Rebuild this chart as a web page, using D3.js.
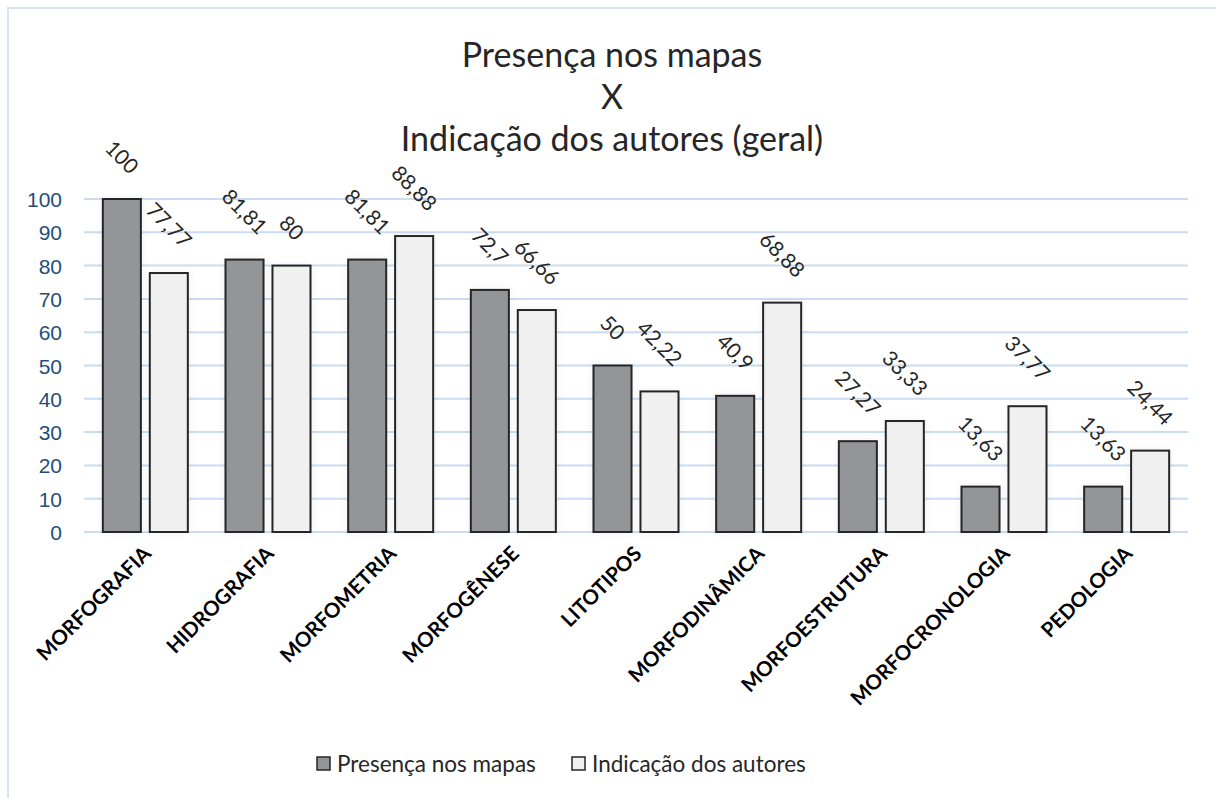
<!DOCTYPE html>
<html lang="pt">
<head>
<meta charset="UTF-8">
<title>Presença nos mapas X Indicação dos autores</title>
<script src="https://d3js.org/d3.v7.min.js"></script>
<style>
    body { margin: 0; background: #fff; }
    svg { font-family: Lato, "Liberation Sans", sans-serif; }
    .tick text { fill: #1f4e79; font-size: 21px; }
    .datalabel { fill: #262626; font-size: 21px; }
    .catlabel { fill: #000; font-size: 20.5px; font-weight: bold; }
</style>
</head>
<body>
<svg id="canvas" width="1216" height="798"></svg>
<script>
    // categories and the two series
    let categories = ["MORFOGRAFIA", "HIDROGRAFIA", "MORFOMETRIA", "MORFOGÊNESE", "LITOTIPOS",
        "MORFODINÂMICA", "MORFOESTRUTURA", "MORFOCRONOLOGIA", "PEDOLOGIA"];
    let presenca = [100, 81.81, 81.81, 72.7, 50, 40.9, 27.27, 13.63, 13.63];
    let indicacao = [77.77, 80, 88.88, 66.66, 42.22, 68.88, 33.33, 37.77, 24.44];
    let seriesNames = ["Presença nos mapas", "Indicação dos autores"];
    let yTicks = [0, 10, 20, 30, 40, 50, 60, 70, 80, 90, 100];
    let titleLines = ["Presença nos mapas", "X", "Indicação dos autores (geral)"];

    let colors = ["#939598", "#f0f0f0"];

    let svg = d3.select('#canvas');

    // outer chart border
    svg.append("rect")
        .attr("x", 8).attr("y", 8)
        .attr("width", 1230).attr("height", 820)
        .attr("fill", "none")
        .attr("stroke", "#d5e3f5")
        .attr("stroke-width", 2);

    // soft shadow used by the bars
    let defs = svg.append("defs");
    let f = defs.append("filter").attr("id", "glow")
        .attr("x", "-30%").attr("y", "-10%").attr("width", "160%").attr("height", "120%");
    f.append("feGaussianBlur").attr("in", "SourceAlpha").attr("stdDeviation", 5).attr("result", "b");
    f.append("feComponentTransfer").attr("in", "b").attr("result", "b2")
        .append("feFuncA").attr("type", "linear").attr("slope", 0.06);
    let m = f.append("feMerge");
    m.append("feMergeNode").attr("in", "b2");
    m.append("feMergeNode").attr("in", "SourceGraphic");

    // title
    svg.append("g").selectAll("text")
        .data(titleLines)
        .enter()
        .append("text")
        .attr("x", 612)
        .attr("y", function (d, i) { return 67 + i * 42; })
        .attr("text-anchor", "middle")
        .style("font-size", "34px")
        .attr("fill", "#262626")
        .text(function (d) { return d; });

    let plotLeft = 84, plotRight = 1188, plotTop = 199, plotBottom = 532;

    let x = d3.scaleBand().domain(categories).range([plotLeft, plotRight])
        .paddingInner(0.307).paddingOuter(0.1535);
    let xs = d3.scaleBand().domain([0, 1]).range([0, x.bandwidth()]).paddingInner(0.19);
    let y = d3.scaleLinear().domain([0, 100]).range([plotBottom, plotTop]);

    // gridlines
    svg.append("g").selectAll("line")
        .data(yTicks)
        .enter()
        .append("line")
        .attr("x1", plotLeft).attr("x2", plotRight)
        .attr("y1", function (d) { return y(d); })
        .attr("y2", function (d) { return y(d); })
        .attr("stroke", "#cadcf2")
        .attr("stroke-width", 2);

    // y axis
    let yAxis = svg.append("g")
        .attr("transform", "translate(62,0)")
        .call(d3.axisLeft(y).tickValues(yTicks).tickSize(0).tickPadding(0));
    yAxis.select(".domain").remove();
    yAxis.selectAll(".tick text").attr("dy", "0.36em");

    let rows = categories.map(function (c, i) {
        return { cat: c, vals: [presenca[i], indicacao[i]] };
    });

    let groups = svg.append("g").selectAll("g")
        .data(rows)
        .enter()
        .append("g")
        .attr("transform", function (d) { return "translate(" + x(d.cat) + ",0)"; });

    groups.selectAll("rect")
        .data(function (d) { return d.vals.map(function (v, k) { return { k: k, v: v }; }); })
        .enter()
        .append("rect")
        .attr("x", function (d) { return xs(d.k); })
        .attr("y", function (d) { return y(d.v); })
        .attr("width", xs.bandwidth())
        .attr("height", function (d) { return y(0) - y(d.v); })
        .attr("fill", function (d) { return colors[d.k]; })
        .attr("stroke", "#262626")
        .attr("stroke-width", 2)
        .attr("filter", "url(#glow)");

    // rotated data labels, box sitting above each bar
    groups.selectAll(".datalabel")
        .data(function (d) { return d.vals.map(function (v, k) { return { k: k, v: v }; }); })
        .enter()
        .append("text")
        .attr("class", "datalabel")
        .attr("text-anchor", "middle")
        .attr("dy", "0.35em")
        .text(function (d) { return String(d.v).replace(".", ","); })
        .attr("transform", function (d) {
            let L = this.getComputedTextLength();
            let w = 0.7071 * (L + 14);
            let cx = xs(d.k) + xs.bandwidth() / 2;
            let cy = y(d.v) - 24 - w / 2;
            return "translate(" + cx + "," + cy + ") rotate(45)";
        });

    // category labels
    svg.append("g").selectAll("text")
        .data(categories)
        .enter()
        .append("text")
        .attr("class", "catlabel")
        .attr("text-anchor", "end")
        .attr("transform", function (d) {
            return "translate(" + (x(d) + x.bandwidth() / 2 + 7) + ",555) rotate(-45)";
        })
        .text(function (d) { return d; });

    // legend
    let legendX = [317, 572];
    let legend = svg.append("g").selectAll("g")
        .data(seriesNames)
        .enter()
        .append("g")
        .attr("transform", function (d, i) { return "translate(" + legendX[i] + ",757)"; });
    legend.append("rect")
        .attr("width", 13).attr("height", 13)
        .attr("fill", function (d, i) { return colors[i]; })
        .attr("stroke", "#262626")
        .attr("stroke-width", 1.5);
    legend.append("text")
        .attr("x", 20).attr("y", 15)
        .style("font-size", "22.5px")
        .attr("fill", "#262626")
        .text(function (d) { return d; });
</script>
</body>
</html>
